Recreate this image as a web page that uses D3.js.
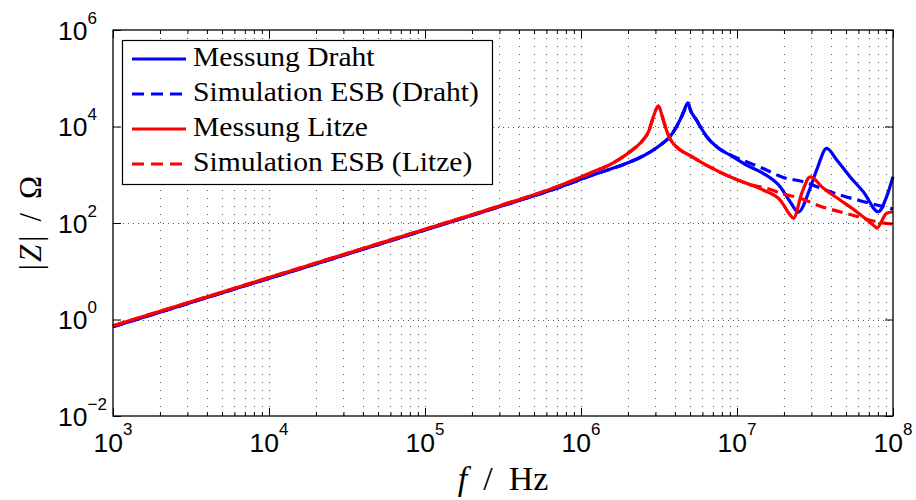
<!DOCTYPE html>
<html>
<head>
<meta charset="utf-8">
<script src="https://cdn.jsdelivr.net/npm/d3@7"></script>
<style>
  body { margin: 0; background: #fff; }
  svg { display: block; }
</style>
</head>
<body>
<svg id="chart" width="916" height="500"></svg>
<script>
// Impedance magnitude |Z| over frequency: wire (Draht) vs. litz wire (Litze),
// measured and simulated with the equivalent circuit (ESB).

// ---- data -------------------------------------------------------------
const fMessDraht = [1e3, 1e4, 1e5, 3e5, 7.3e5, 1.2e6, 1.96e6, 2.5e6, 2.91e6, 3.37e6, 3.72e6, 4.1e6, 4.31e6, 4.55e6, 4.83e6, 5.05e6, 5.5e6, 5.9e6, 6.4e6, 7.4e6, 9.0e6, 1.15e7, 1.47e7, 1.89e7, 2.19e7, 2.47e7, 2.94e7, 3.24e7, 3.76e7, 4.36e7, 5.3e7, 6.45e7, 8.05e7, 9.1e7, 1e8];
const zMessDraht = [0.71, 7.1, 71.5, 218, 550, 1000, 1727, 2450, 3260, 4600, 6150, 10000, 13600, 20000, 31000, 21000, 13600, 9200, 6150, 3800, 2570, 1590, 1070, 565, 276, 168, 524, 1254, 3530, 2020, 911, 445, 171, 351, 911];

const fSimDraht = [1e3, 1e4, 1e5, 3e5, 7.3e5, 1.2e6, 1.96e6, 2.5e6, 2.91e6, 3.37e6, 3.72e6, 4.1e6, 4.31e6, 4.55e6, 4.83e6, 5.05e6, 5.5e6, 5.9e6, 6.4e6, 7.4e6, 9.0e6, 1.15e7, 1.51e7, 1.98e7, 2.66e7, 3.58e7, 4.58e7, 6.15e7, 7.86e7, 1e8];
const zSimDraht  = [0.71, 7.1, 71.5, 218, 550, 1000, 1727, 2450, 3260, 4600, 6150, 10000, 13600, 20000, 31000, 21000, 13600, 9200, 6150, 3800, 2600, 1865, 1297, 880, 718, 500, 380, 290, 236, 195];

const fMessLitze = [1e3, 1e4, 1e5, 3e5, 7.3e5, 1.2e6, 1.6e6, 1.96e6, 2.25e6, 2.5e6, 2.72e6, 2.91e6, 3.13e6, 3.37e6, 3.55e6, 3.72e6, 4.31e6, 5.0e6, 6.4e6, 9.0e6, 1.15e7, 1.47e7, 1.89e7, 2.19e7, 2.3e7, 2.6e7, 2.95e7, 3.58e7, 4.58e7, 5.85e7, 7.66e7, 7.86e7, 9.1e7, 1e8];
const zMessLitze = [0.74, 7.4, 74.5, 226, 595, 1150, 1750, 2650, 3750, 5250, 8000, 15900, 26600, 13600, 8000, 5600, 3300, 2500, 1560, 911, 665, 483, 300, 147, 125, 413, 900, 524, 300, 171, 84, 78, 159, 171];

const fSimLitze = [1e3, 1e4, 1e5, 3e5, 7.3e5, 1.2e6, 1.6e6, 1.96e6, 2.25e6, 2.5e6, 2.72e6, 2.91e6, 3.13e6, 3.37e6, 3.55e6, 3.72e6, 4.31e6, 5.0e6, 6.4e6, 9.0e6, 1.21e7, 1.55e7, 1.98e7, 2.54e7, 3.49e7, 4.58e7, 6.15e7, 7.86e7, 1e8];
const zSimLitze  = [0.74, 7.4, 74.5, 226, 595, 1150, 1750, 2650, 3750, 5250, 8000, 15900, 26600, 13600, 8000, 5600, 3300, 2500, 1560, 911, 625, 524, 399, 325, 218, 171, 131, 106, 95];

const seriesNames = ["Messung Draht", "Simulation ESB (Draht)", "Messung Litze", "Simulation ESB (Litze)"];

// axis decades (label exponents)
const xExponents = [3, 4, 5, 6, 7, 8];
const yExponents = [-2, 0, 2, 4, 6];

// ---- layout -----------------------------------------------------------
const W = 916, H = 500;
const margin = { top: 30, right: 23, bottom: 84, left: 113 };
const svg = d3.select("#chart");

const x = d3.scaleLog().domain([1e3, 1e8]).range([margin.left, W - margin.right]);
const y = d3.scaleLog().domain([1e-2, 1e6]).range([H - margin.bottom, margin.top]);
const [x0, x1] = x.range();
const [y1, y0] = y.range();

const blue = "#0000ff", red = "#ff0000";
const series = [
  { name: seriesNames[0], f: fMessDraht, z: zMessDraht, color: blue, dash: null },
  { name: seriesNames[1], f: fSimDraht,  z: zSimDraht,  color: blue, dash: "11,6" },
  { name: seriesNames[2], f: fMessLitze, z: zMessLitze, color: red,  dash: null },
  { name: seriesNames[3], f: fSimLitze,  z: zSimLitze,  color: red,  dash: "11,6" }
];

// ---- grid -------------------------------------------------------------
const xDecades = xExponents.map(e => Math.pow(10, e));
const yDecades = yExponents.map(e => Math.pow(10, e));
const xAllTicks = x.ticks();                 // 1..9 per decade
const xMinor = xAllTicks.filter(v => !xDecades.some(d => Math.abs(d - v) / d < 1e-9));

const grid = svg.append("g").attr("stroke", "#555").attr("stroke-width", 1).attr("fill", "none");
grid.selectAll("line.vx")
  .data(xAllTicks.filter(v => v > 1e3 && v < 1e8))
  .join("line")
  .attr("x1", d => Math.round(x(d)) + 0.5).attr("x2", d => Math.round(x(d)) + 0.5)
  .attr("y1", y0).attr("y2", y1)
  .attr("stroke-dasharray", "1,7");
grid.selectAll("line.hy")
  .data(yDecades.filter(v => v > 1e-2 && v < 1e6))
  .join("line")
  .attr("x1", x0).attr("x2", x1)
  .attr("y1", d => Math.round(y(d)) + 0.5).attr("y2", d => Math.round(y(d)) + 0.5)
  .attr("stroke-dasharray", "1,4");

// ---- curves -----------------------------------------------------------
const line = d3.line().x(d => x(d[0])).y(d => y(d[1])).curve(d3.curveMonotoneX);
const plot = svg.append("g");
plot.selectAll("path.curve")
  .data(series)
  .join("path")
  .attr("class", "curve")
  .attr("d", s => line(s.f.map((f, i) => [f, s.z[i]])))
  .attr("fill", "none")
  .attr("stroke", s => s.color)
  .attr("stroke-width", 3.2)
  .attr("stroke-linejoin", "round")
  .attr("stroke-dasharray", s => s.dash);

// ---- axes (ticks drawn inward on all four sides) ----------------------
function styleAxis(g) {
  g.select(".domain").remove();
  g.selectAll(".tick line").attr("stroke", "#000").attr("stroke-width", 1);
  g.selectAll(".tick text").remove();
}
svg.append("g").attr("transform", `translate(0,${y1})`)
  .call(d3.axisBottom(x).tickValues(xDecades).tickSize(-8).tickFormat("")).call(styleAxis);
svg.append("g").attr("transform", `translate(0,${y1})`)
  .call(d3.axisBottom(x).tickValues(xMinor).tickSize(-4).tickFormat("")).call(styleAxis);
svg.append("g").attr("transform", `translate(0,${y0})`)
  .call(d3.axisTop(x).tickValues(xDecades).tickSize(-8).tickFormat("")).call(styleAxis);
svg.append("g").attr("transform", `translate(0,${y0})`)
  .call(d3.axisTop(x).tickValues(xMinor).tickSize(-4).tickFormat("")).call(styleAxis);
svg.append("g").attr("transform", `translate(${x0},0)`)
  .call(d3.axisLeft(y).tickValues(yDecades).tickSize(-8).tickFormat("")).call(styleAxis);
svg.append("g").attr("transform", `translate(${x1},0)`)
  .call(d3.axisRight(y).tickValues(yDecades).tickSize(-8).tickFormat("")).call(styleAxis);

// frame
svg.append("rect")
  .attr("x", x0).attr("y", y0).attr("width", x1 - x0).attr("height", y1 - y0)
  .attr("fill", "none").attr("stroke", "#000").attr("stroke-width", 1.3);

// ---- tick labels 10^n ---------------------------------------------------
const sans = "'Liberation Sans', Arial, Helvetica, sans-serif";
const serif = "'Liberation Serif', 'Times New Roman', serif";
const fmtExp = e => (e < 0 ? "\u2212" + Math.abs(e) : String(e));

const xl = svg.append("g").attr("font-family", sans).attr("fill", "#000");
xExponents.forEach(e => {
  const t = xl.append("text")
    .attr("x", x(Math.pow(10, e))).attr("y", 452)
    .attr("text-anchor", "middle");
  t.append("tspan").attr("font-size", 26.5).text("10");
  t.append("tspan").attr("font-size", 17).attr("dy", -17).text(fmtExp(e));
});

const yl = svg.append("g").attr("font-family", sans).attr("fill", "#000");
yExponents.forEach(e => {
  const yy = y(Math.pow(10, e)) + 9.5;
  yl.append("text").attr("x", 87.5).attr("y", yy).attr("text-anchor", "end")
    .attr("font-size", 26.5).text("10");
  yl.append("text").attr("x", 87.5).attr("y", yy - 16).attr("text-anchor", "start")
    .attr("font-size", 17).text(fmtExp(e));
});

// ---- axis titles ------------------------------------------------------
const xt = svg.append("text")
  .attr("x", (x0 + x1) / 2).attr("y", 490)
  .attr("text-anchor", "middle")
  .attr("font-family", serif).attr("font-size", 34).attr("fill", "#000");
xt.append("tspan").attr("font-style", "italic").text("f");
xt.append("tspan").attr("dx", 16).text("/");
xt.append("tspan").attr("dx", 16).text("Hz");

const yt = svg.append("text")
  .attr("transform", `translate(41,${(y0 + y1) / 2}) rotate(-90)`)
  .attr("text-anchor", "middle")
  .attr("font-family", serif).attr("font-size", 31).attr("fill", "#000");
yt.append("tspan").text("|");
yt.append("tspan").attr("dx", 2).attr("font-style", "italic").text("Z");
yt.append("tspan").attr("dx", 3).text("|");
yt.append("tspan").attr("dx", 14).text("/");
yt.append("tspan").attr("dx", 14).text("\u03A9");

// ---- legend -----------------------------------------------------------
const lg = svg.append("g");
lg.append("rect")
  .attr("x", 122.5).attr("y", 40.5).attr("width", 370).attr("height", 144)
  .attr("fill", "#fff").attr("stroke", "#000").attr("stroke-width", 1.2);

const rowY = i => 59 + i * 35;
lg.selectAll("line.key")
  .data(series)
  .join("line")
  .attr("x1", 132).attr("x2", 186)
  .attr("y1", (d, i) => rowY(i)).attr("y2", (d, i) => rowY(i))
  .attr("stroke", d => d.color).attr("stroke-width", 3.2)
  .attr("stroke-dasharray", d => d.dash ? "12,7" : null);

const lt = lg.append("g").attr("font-family", serif).attr("font-size", 26.5).attr("fill", "#000");
const labels = lt.selectAll("text")
  .data(series)
  .join("text")
  .attr("x", 193).attr("y", (d, i) => rowY(i) + 7.5)
  .text(d => d.name);
// widen the serif face towards Computer Modern proportions
const widest = d3.max(labels.nodes(), n => n.getComputedTextLength());
const k = 286 / widest;
lt.attr("transform", `translate(193,0) scale(${k},1) translate(-193,0)`);
</script>
</body>
</html>
